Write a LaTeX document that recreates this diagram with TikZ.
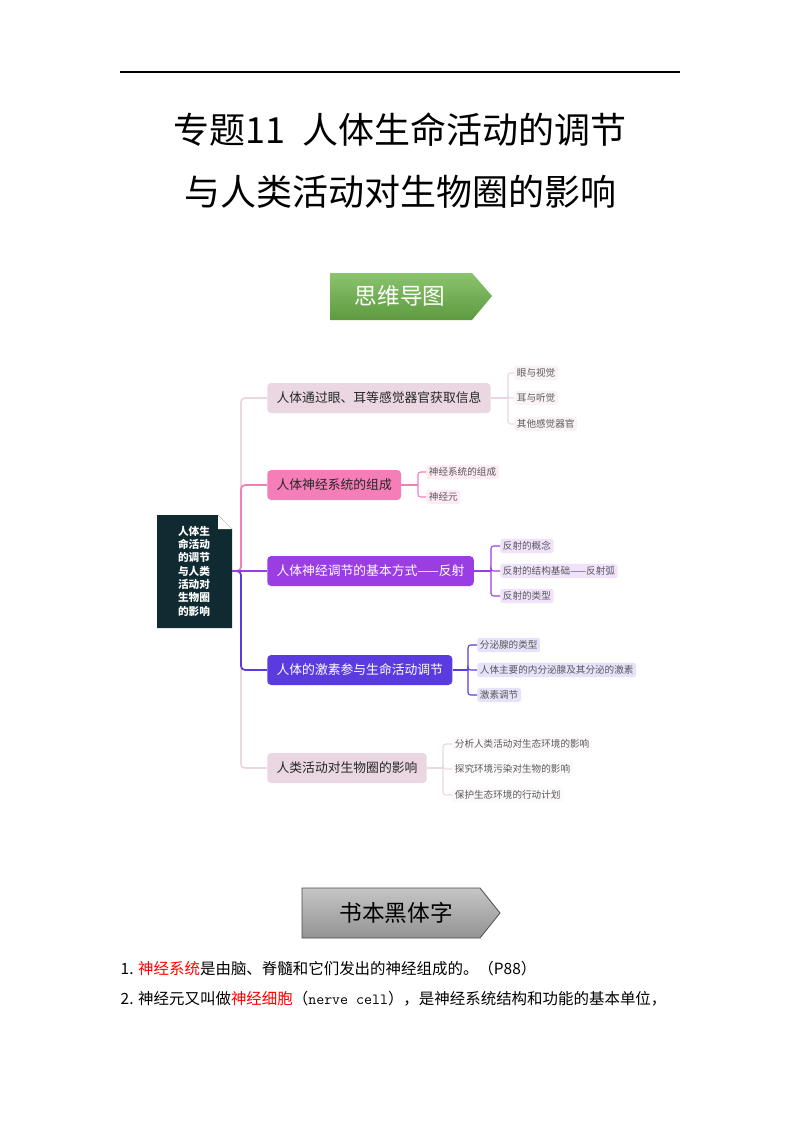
\documentclass[tikz,border=0pt]{standalone}
\usepackage{fontspec}
\setmainfont{Noto Sans CJK SC}
\usetikzlibrary{positioning,calc}

\definecolor{pinkA}{HTML}{EAD7E1}
\definecolor{pinkB}{HTML}{F57DB8}
\definecolor{purpA}{HTML}{9A3DE2}
\definecolor{indA}{HTML}{5A3BE0}
\definecolor{rootbg}{HTML}{0F2B31}
\definecolor{greenA}{HTML}{6DB54A}

\tikzset{
    branch/.style={rounded corners=3pt, minimum height=22.5pt, inner xsep=7pt, font=\fontsize{9.6}{12}\selectfont, anchor=west},
    leaf/.style={rounded corners=2pt, inner sep=2pt, font=\fontsize{7.2}{9}\selectfont, anchor=west, text=black!65},
    link/.style={line width=1.3pt, rounded corners=3pt},
    twig/.style={line width=0.8pt, rounded corners=2pt}
}

\begin{document}
\begin{tikzpicture}[x=0.75pt,y=-0.75pt]
        %PAGE
        \useasboundingbox (0,0) rectangle (800,1132);
        \fill[white] (0,0) rectangle (800,1132);

        %TITLE
        \draw[line width=0.8pt] (120,72) -- (680,72);
        \node[font=\fontsize{27}{32}\selectfont] (t1) at (400,130) {专题11\ \ 人体生命活动的调节};
        \node[font=\fontsize{27}{32}\selectfont] (t2) at (400,192) {与人类活动对生物圈的影响};

        %MIND MAP BANNER
        \shade[top color=greenA!80!white, bottom color=greenA!85!black]
            (330,273) -- (472,273) -- (492,296) -- (472,320) -- (330,320) -- cycle;
        \node[text=white, font=\fontsize{17}{20}\selectfont] (mm) at (400,296) {思维导图};

        %ROOT
        \fill[rootbg] (157,515) -- (218,515) -- (232,529) -- (232,628) -- (157,628) -- cycle;
        \fill[white] (218,515) -- (232,529) -- (218,529) -- cycle;
        \node[text=white, font=\fontsize{8}{10}\selectfont\bfseries, align=center] (root) at (194,571)
            {人体生\\命活动\\的调节\\与人类\\活动对\\生物圈\\的影响};
        \coordinate (rootR) at (232,571);

        %BRANCHES
        \node[branch, fill=pinkA, text=black!85] (b1) at (267,398) {人体通过眼、耳等感觉器官获取信息};
        \node[branch, fill=pinkB, text=black!85] (b2) at (267,485) {人体神经系统的组成};
        \node[branch, fill=purpA, text=white] (b3) at (267,571) {人体神经调节的基本方式——反射};
        \node[branch, fill=indA, text=white] (b4) at (267,670) {人体的激素参与生命活动调节};
        \node[branch, fill=pinkA, text=black!85] (b5) at (267,768) {人类活动对生物圈的影响};

        \draw[link, pinkA] (rootR) -- ++(9,0) |- (b1.west);
        \draw[link, pinkA] (rootR) -- ++(9,0) |- (b5.west);
        \draw[link, pinkB] (rootR) -- ++(9,0) |- (b2.west);
        \draw[link, indA] (rootR) -- ++(9,0) |- (b4.west);
        \draw[link, purpA] (rootR) -- (b3.west);

        %LEAVES
        \node[leaf, fill=pinkA!30] (l11) at (514,373) {眼与视觉};
        \node[leaf, fill=pinkA!30] (l12) at (514,398) {耳与听觉};
        \node[leaf, fill=pinkA!30] (l13) at (514,424) {其他感觉器官};
        \coordinate (k1) at (508,398);
        \draw[twig, pinkA] (b1.east) -- (k1);
        \foreach \l in {l11,l12,l13}
            \draw[twig, pinkA] (k1) |- (\l.west);

        \node[leaf, fill=pinkB!15] (l21) at (426,472) {神经系统的组成};
        \node[leaf, fill=pinkB!15] (l22) at (426,497) {神经元};
        \coordinate (k2) at (418,485);
        \draw[twig, pinkB] (b2.east) -- (k2);
        \foreach \l in {l21,l22}
            \draw[twig, pinkB] (k2) |- (\l.west);

        \node[leaf, fill=purpA!15] (l31) at (500,546) {反射的概念};
        \node[leaf, fill=purpA!15] (l32) at (500,571) {反射的结构基础——反射弧};
        \node[leaf, fill=purpA!15] (l33) at (500,596) {反射的类型};
        \coordinate (k3) at (491,571);
        \draw[twig, purpA] (b3.east) -- (k3);
        \foreach \l in {l31,l32,l33}
            \draw[twig, purpA] (k3) |- (\l.west);

        \node[leaf, fill=indA!15] (l41) at (477,645) {分泌腺的类型};
        \node[leaf, fill=indA!15] (l42) at (477,670) {人体主要的内分泌腺及其分泌的激素};
        \node[leaf, fill=indA!15] (l43) at (477,695) {激素调节};
        \coordinate (k4) at (468,670);
        \draw[twig, indA] (b4.east) -- (k4);
        \foreach \l in {l41,l42,l43}
            \draw[twig, indA] (k4) |- (\l.west);

        \node[leaf, fill=pinkA!15] (l51) at (452,744) {分析人类活动对生态环境的影响};
        \node[leaf, fill=pinkA!15] (l52) at (452,769) {探究环境污染对生物的影响};
        \node[leaf, fill=pinkA!15] (l53) at (452,795) {保护生态环境的行动计划};
        \coordinate (k5) at (443,768);
        \draw[twig, pinkA] (b5.east) -- (k5);
        \foreach \l in {l51,l52,l53}
            \draw[twig, pinkA] (k5) |- (\l.west);

        %TEXTBOOK BANNER
        \shade[top color=gray!45, bottom color=gray!85, draw=black!70, line width=0.6pt]
            (302,888) -- (480,888) -- (500,913) -- (480,938) -- (302,938) -- cycle;
        \node[font=\fontsize{17}{20}\selectfont] (tb) at (396,913) {书本黑体字};

        %TEXT
        \node[anchor=west, font=\fontsize{11.6}{13}\selectfont] (p1) at (116,969)
            {1. {\color{red}神经系统}是由脑、脊髓和它们发出的神经组成的。（P88）};
        \node[anchor=west, font=\fontsize{11.6}{13}\selectfont] (p2) at (116,999)
            {2. 神经元又叫做{\color{red}神经细胞}（\texttt{nerve cell}），是神经系统结构和功能的基本单位，};
    \end{tikzpicture}
\end{document}
